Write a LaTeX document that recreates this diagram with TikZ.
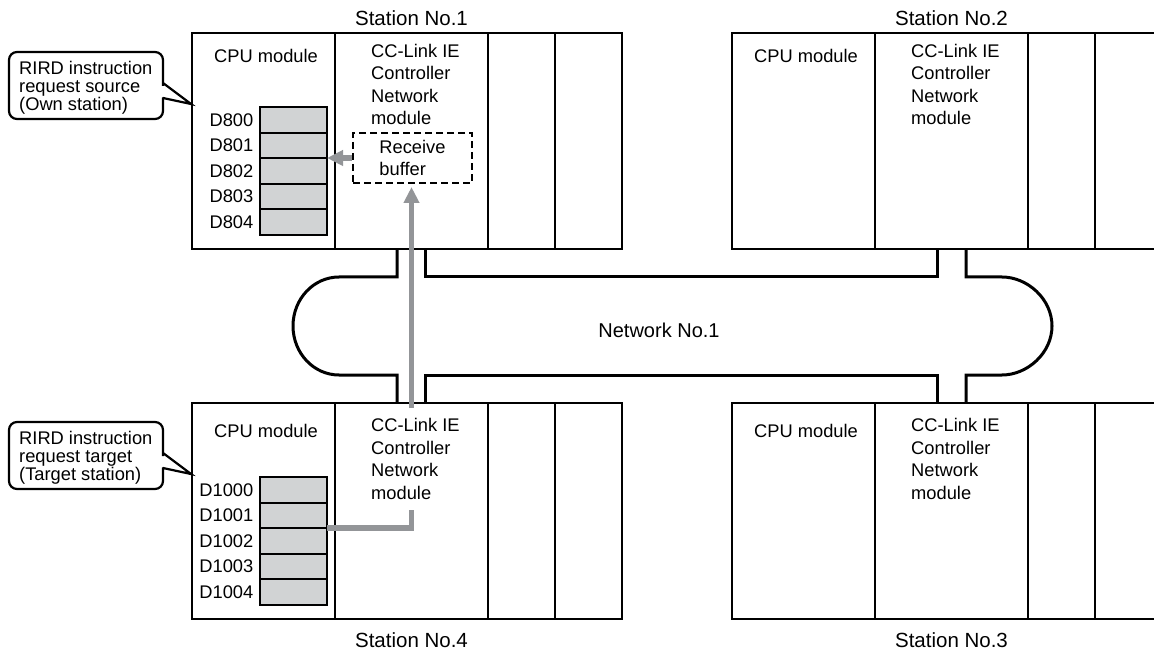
\documentclass[tikz,border=0pt]{standalone}
\usepackage{fontspec}
\setmainfont{Liberation Sans}
\usetikzlibrary{positioning, arrows.meta, calc}

\definecolor{regfill}{RGB}{209,211,212}
\definecolor{flowgray}{RGB}{147,149,152}

\begin{document}
\begin{tikzpicture}[
        x=1pt, y=-1pt,
        font=\fontsize{18.3}{22.5}\selectfont,
        % Estilo para los modulos de cada estacion
        module/.style={
            draw,
            line width=2.6pt,
            rectangle,
            minimum height=216pt,
            inner sep=0pt,
            outer sep=0pt
        },
        % Estilo para los registros D
        reg/.style={
            draw,
            line width=2pt,
            fill=regfill,
            minimum width=67pt,
            minimum height=25.6pt,
            inner sep=0pt,
            outer sep=0pt
        },
        reglabel/.style={anchor=east, inner sep=0pt},
        modtext/.style={inner sep=0pt, align=left},
        stationlbl/.style={font=\fontsize{20.5}{24}\selectfont},
        % Estilo para las notas
        notetext/.style={inner sep=0pt, align=left, font=\fontsize{18.3}{18}\selectfont},
        callout/.style={draw, line width=2.2pt, rounded corners=8pt, line cap=round},
        netline/.style={line width=3pt, line join=miter},
        bufbox/.style={draw, line width=2pt, dash pattern=on 7pt off 4pt,
            minimum width=119pt, minimum height=50pt, align=left},
        % Flechas de datos
        flow/.style={draw=flowgray, line width=5.5pt, -{Triangle[length=16pt,width=15pt]}},
        flowline/.style={draw=flowgray, line width=5.5pt}
    ]
    \useasboundingbox (0,0) rectangle (1154,652);

    % Estaciones
    \foreach \s/\x/\y/\a/\d/\o in {1/192/33/north/-7/0, 2/732/33/north/-7/0,
                                  4/192/403/south/28/4.5, 3/732/403/south/28/4.5} {
        \node[module, minimum width=143pt, anchor=north west] (cpu\s) at (\x,\y) {};
        \node[module, minimum width=153pt, right=0pt of cpu\s] (net\s) {};
        \node[module, minimum width=67pt, right=0pt of net\s] (sa\s) {};
        \node[module, minimum width=67pt, right=0pt of sa\s] (sb\s) {};
        \node[anchor=base] at ($(cpu\s.north)+(2.5,30+\o)$) {CPU module};
        \node[modtext, anchor=north west] at ($(net\s.north west)+(36,11+\o)$)
            {CC-Link IE\\Controller\\Network\\module};
        \node[stationlbl, anchor=base] at ($(net\s.\a)+(0,\d)$) {Station No.\s};
    }

    % Red
    \draw[netline] (397,249) -- (397,277) -- (339,277)
        .. controls (313.6,277) and (293,299) .. (293,326)
        .. controls (293,353) and (313.6,375) .. (339,375) -- (397,375) -- (397,403);
    \draw[netline] (425,403) -- (425,375) -- (937,375) -- (937,403);
    \draw[netline] (966,403) -- (966,375) -- (1002,375)
        .. controls (1027.4,375) and (1052,353) .. (1052,326)
        .. controls (1052,299) and (1027.4,277) .. (1002,277) -- (966,277) -- (966,249);
    \draw[netline] (937,249) -- (937,277) -- (425,277) -- (425,249);
    \node[font=\fontsize{20}{24}\selectfont] (nw) at (659,330) {Network No.1};

    % Registros
    \foreach \n [count=\i from 0] in {800,...,804} {
        \node[reg, anchor=north west] (d\n) at (260,107+25.6*\i) {};
        \node[reglabel] at ($(d\n.west)+(-6.5,0)$) {D\n};
    }
    \foreach \n [count=\i from 0] in {1000,...,1004} {
        \node[reg, anchor=north west] (d\n) at (260,477+25.6*\i) {};
        \node[reglabel] at ($(d\n.west)+(-6.5,0)$) {D\n};
    }

    % Buffer de recepcion
    \node[bufbox] (buf) at (412.5,158) {Receive\\buffer};

    % Notas
    \foreach \c/\nm/\t in {0/srcnote/{RIRD instruction\\request source\\(Own station)},
                           370/tgtnote/{RIRD instruction\\request target\\(Target station)}} {
        \draw[callout] (163,98+\c) -- (163,119+\c) -- (9,119+\c) -- (9,52+\c)
            -- (163,52+\c) -- (163,78+\c) [sharp corners] -- (163,83+\c)
            -- (191,104+\c) -- (163,98+\c);
        \node[notetext, anchor=north west] (\nm) at (19,61+\c) {\t};
    }

    % Flujo de datos
    \coordinate (pick) at ($(net4.north)+(0,107)$);
    \draw[flowline] (d1001.south east) -| (pick);
    \draw[flow] ($(net4.north)+(0,5)$) -- ($(net4.north |- buf.south)+(0,3)$);
    \draw[flow] (buf.west) -- (buf.west -| d801.east);

\end{tikzpicture}
\end{document}
